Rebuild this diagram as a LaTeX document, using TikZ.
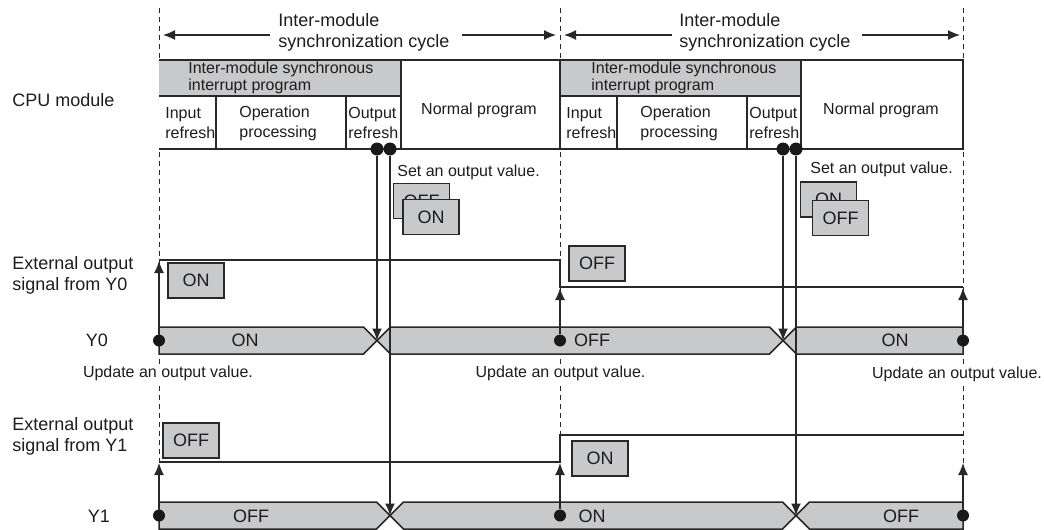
\documentclass[tikz,border=0pt]{standalone}
\usepackage{fontspec}
\setmainfont{Liberation Sans}
\usepackage{tikz}
\usetikzlibrary{arrows.meta,positioning}
\definecolor{lncol}{RGB}{40,40,40}
\definecolor{busgray}{RGB}{200,201,202}
\definecolor{ink}{RGB}{30,28,28}
\tikzstyle{lbl} = [text=ink, font=\fontsize{9}{10.5}\selectfont, inner sep=0pt, align=left]
\tikzstyle{note} = [text=ink, font=\fontsize{8}{10}\selectfont, inner sep=0pt, align=left]
\tikzstyle{bandtxt} = [text=ink, font=\fontsize{8}{8.5}\selectfont, inner sep=0pt, align=left]
\tikzstyle{upd} = [text=ink, font=\fontsize{8}{10}\selectfont, fill=white, inner sep=1pt]
\tikzstyle{val} = [rectangle, draw=lncol, line width=0.7pt, fill=busgray, text=ink, font=\fontsize{9}{10}\selectfont, minimum width=28pt, minimum height=17.5pt, inner sep=0pt]
\tikzstyle{dot} = [circle, fill=black!90, inner sep=0pt, minimum size=6pt]
\tikzstyle{guide} = [draw=lncol, line width=0.5pt, dash pattern=on 2.5pt off 2pt]
\tikzstyle{tedge} = [draw=lncol, line width=0.65pt, -{Latex[length=6pt,width=5pt]}]
\tikzstyle{sig} = [draw=lncol, line width=0.65pt]
\tikzstyle{bus} = [draw=lncol, line width=0.75pt, fill=busgray]
\tikzstyle{cpubox} = [draw=lncol, line width=0.75pt, fill=white]
\tikzstyle{cpuband} = [draw=lncol, line width=0.75pt, fill=busgray]

\begin{document}
\begin{tikzpicture}[x=0.5pt, y=-0.5pt]
\useasboundingbox (0,0) rectangle (1044,530);

% guides =============================
\draw[guide] (159,8) -- (159,530);
\draw[guide] (560,8) -- (560,530);
\draw[guide] (963,8) -- (963,530);

% cycle ==============================
\node[lbl, anchor=west] (cyc1) at (278,32.5) {Inter-module\\synchronization cycle};
\node[lbl, anchor=west] (cyc2) at (679,32.5) {Inter-module\\synchronization cycle};
\coordinate (c1a) at (270,35);
\coordinate (c1b) at (163,35);
\coordinate (c1c) at (462,35);
\coordinate (c1d) at (556,35);
\coordinate (c2a) at (672,35);
\coordinate (c2b) at (564,35);
\coordinate (c2c) at (862,35);
\coordinate (c2d) at (960,35);

% cpu module =========================
\node[lbl, anchor=west] (cpu) at (12,100) {CPU module};

% first cycle
\draw[cpuband] (159,60) -- (401,60) -- (401,96) -- (159,96);
\draw[cpubox] (159,96) -- (216,96) -- (216,149) -- (159,149);
\draw[cpubox] (216,96) rectangle (346,149);
\draw[cpubox] (346,96) rectangle (401,149);
\draw[cpubox] (401,60) rectangle (560,149);
\node[bandtxt, anchor=west] (isp1) at (188,78) {Inter-module synchronous\\interrupt program};
\node[note, anchor=west] (in1) at (165,123) {Input\\refresh};
\node[note, anchor=west] (op1) at (239,123) {Operation\\processing};
\node[note, anchor=west] (out1) at (348,123) {Output\\refresh};
\node[note] (np1) at (479,110) {Normal program};

% second cycle
\draw[cpuband] (560,60) rectangle (801,96);
\draw[cpubox] (560,96) rectangle (617,149);
\draw[cpubox] (617,96) rectangle (747,149);
\draw[cpubox] (747,96) rectangle (801,149);
\draw[cpubox] (801,60) rectangle (963,149);
\node[bandtxt, anchor=west] (isp2) at (591,78) {Inter-module synchronous\\interrupt program};
\node[note, anchor=west] (in2) at (566,123) {Input\\refresh};
\node[note, anchor=west] (op2) at (640,123) {Operation\\processing};
\node[note, anchor=west] (out2) at (749,123) {Output\\refresh};
\node[note] (np2) at (881,110) {Normal program};

% output refresh points
\node[dot, minimum size=6.5pt] (d1) at (377,149) {};
\node[dot, minimum size=6.5pt] (d2) at (390,149) {};
\node[dot, minimum size=6.5pt] (d3) at (783,149) {};
\node[dot, minimum size=6.5pt] (d4) at (796,149) {};

% set values
\node[note, anchor=west] (set1) at (397,172) {Set an output value.};
\node[note, anchor=west] (set2) at (810,169) {Set an output value.};
\node[val] (s1b) at (421.5,201) {OFF};
\node[val] (s1f) at (431,217) {ON};
\node[val] (s2b) at (828.5,199.5) {ON};
\node[val] (s2f) at (840.5,218) {OFF};

% external output Y0 =================
\node[lbl, anchor=west] (ext0) at (12,275.5) {External output\\signal from Y0};
\draw[sig] (159,260) -- (560,260) -- (560,287) -- (963,287);
\node[val] (v0a) at (196,280.5) {ON};
\node[val] (v0b) at (597,263.5) {OFF};

% Y0 ================================
\node[lbl] (y0) at (97,340.5) {Y0};
\filldraw[bus] (159,327) -- (363.5,327) -- (377,340.5) -- (363.5,354) -- (159,354) -- cycle;
\filldraw[bus] (390.5,327) -- (769.5,327) -- (783,340.5) -- (769.5,354) -- (390.5,354) -- (377,340.5) -- cycle;
\filldraw[bus] (796.5,327) -- (963,327) -- (963,354) -- (796.5,354) -- (783,340.5) -- cycle;
\node[lbl] (t0a) at (245,340.5) {ON};
\node[lbl] (t0b) at (592,340.5) {OFF};
\node[lbl] (t0c) at (895,340.5) {ON};
\node[dot] (b0a) at (159,340.5) {};
\node[dot] (b0b) at (560,340.5) {};
\node[dot] (b0c) at (963,340.5) {};
\coordinate (x0a) at (377,340.5);
\coordinate (x0b) at (783,340.5);
\coordinate (e0a) at (159,261);
\coordinate (e0b) at (560,288);
\coordinate (e0c) at (963,288);

% update labels
\node[upd] (u1) at (168,373) {Update an output value.};
\node[upd] (u2) at (560.5,373) {Update an output value.};
\node[upd] (u3) at (957,374) {Update an output value.};

% external output Y1 =================
\node[lbl, anchor=west] (ext1) at (12,436) {External output\\signal from Y1};
\draw[sig] (159,462) -- (560,462) -- (560,435) -- (963,435);
\node[val] (v1a) at (191,440.5) {OFF};
\node[val] (v1b) at (600,458.5) {ON};

% Y1 ================================
\node[lbl] (y1) at (99,516) {Y1};
\filldraw[bus] (159,502) -- (376.5,502) -- (390,515.5) -- (376.5,529) -- (159,529) -- cycle;
\filldraw[bus] (403.5,502) -- (782.5,502) -- (796,515.5) -- (782.5,529) -- (403.5,529) -- (390,515.5) -- cycle;
\filldraw[bus] (809.5,502) -- (963,502) -- (963,529) -- (809.5,529) -- (796,515.5) -- cycle;
\node[lbl] (t1a) at (251,516) {OFF};
\node[lbl] (t1b) at (592,516) {ON};
\node[lbl] (t1c) at (901,516) {OFF};
\node[dot] (b1a) at (159,515.5) {};
\node[dot] (b1b) at (560,515.5) {};
\node[dot] (b1c) at (963,515.5) {};
\coordinate (x1a) at (390,515.5);
\coordinate (x1b) at (796,515.5);
\coordinate (e1a) at (159,463);
\coordinate (e1b) at (560,463);
\coordinate (e1c) at (963,463);

%edges
\path[tedge] (c1a) -- (c1b);
\path[tedge] (c1c) -- (c1d);
\path[tedge] (c2a) -- (c2b);
\path[tedge] (c2c) -- (c2d);

\path[tedge] (d1) -- (x0a);
\path[tedge] (d2) -- (x1a);
\path[tedge] (d3) -- (x0b);
\path[tedge] (d4) -- (x1b);

\path[tedge] (b0a) -- (e0a);
\path[tedge] (b0b) -- (e0b);
\path[tedge] (b0c) -- (e0c);
\path[tedge] (b1a) -- (e1a);
\path[tedge] (b1b) -- (e1b);
\path[tedge] (b1c) -- (e1c);

\end{tikzpicture}
\end{document}
